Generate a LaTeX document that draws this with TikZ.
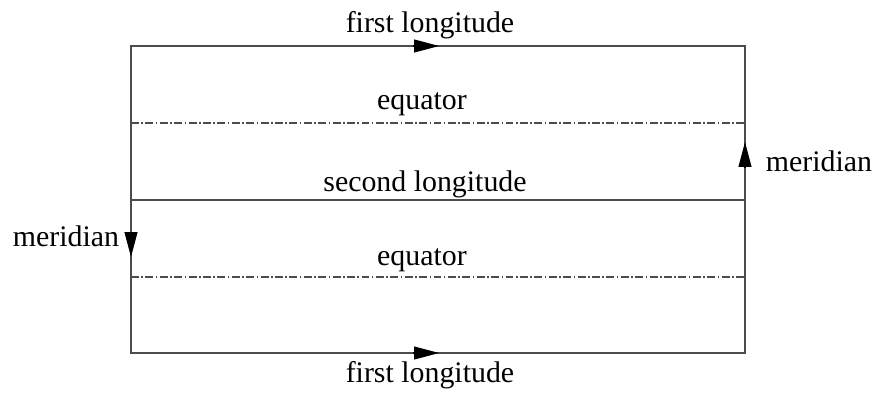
\documentclass[tikz,border=0pt]{standalone}
\usepackage{fontspec}
\setmainfont{Liberation Serif}
\usetikzlibrary{arrows.meta}

\tikzset{
  lbl/.style={inner sep=0pt,anchor=base,font=\fontsize{17}{20}\selectfont},
  edge/.style={draw=black!70,line width=0.6pt},
  eq/.style={edge,dash pattern=on 4.5pt off 1.4pt on 0.9pt off 1.4pt},
  dir/.style={-{Triangle[length=0.5cm,width=0.26cm]},black,line width=0.6pt}
}

\begin{document}
\begin{tikzpicture}[x=0.02cm,y=-0.02cm]

\useasboundingbox (0,0) rectangle (876,395);

% Corners of the chart
\coordinate (NW) at (131,46);
\coordinate (NE) at (745,46);
\coordinate (SW) at (131,353);
\coordinate (SE) at (745,353);

\draw[edge] (NW) -- (NE) -- (SE) -- (SW) -- cycle;

% Inner lines
\coordinate (E1w) at (131,123);
\coordinate (E1e) at (745,123);
\coordinate (Lw) at (131,200);
\coordinate (Le) at (745,200);
\coordinate (E2w) at (131,277);
\coordinate (E2e) at (745,277);

\draw[eq] (E1w) -- (E1e);
\draw[edge] (Lw) -- (Le);
\draw[eq] (E2w) -- (E2e);

% Direction marks
\coordinate (Ta) at (413,46);
\coordinate (Tb) at (439,46);
\coordinate (Ba) at (413,353);
\coordinate (Bb) at (439,353);
\coordinate (La) at (131,232);
\coordinate (Lb) at (131,257);
\coordinate (Ra) at (745,168);
\coordinate (Rb) at (745,142);

\draw[dir] (Ta) -- (Tb);
\draw[dir] (Ba) -- (Bb);
\draw[dir] (La) -- (Lb);
\draw[dir] (Ra) -- (Rb);

% Labels
\node[lbl] (top) at (430,33) {first longitude};
\node[lbl] (eqA) at (422,110) {equator};
\node[lbl] (sec) at (425,192) {second longitude};
\node[lbl] (eqB) at (422,265) {equator};
\node[lbl] (bot) at (430,382) {first longitude};
\node[lbl] (merL) at (66,246) {meridian};
\node[lbl] (merR) at (819,172) {meridian};

\end{tikzpicture}
\end{document}
